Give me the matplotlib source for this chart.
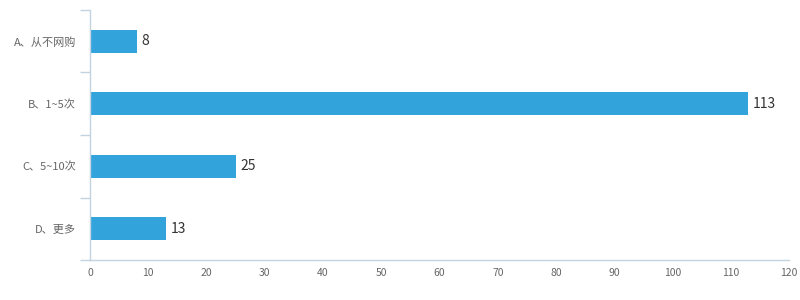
import matplotlib
matplotlib.use("Agg")
import matplotlib.pyplot as plt
import numpy as np

plt.rcParams["font.family"] = ["Noto Sans CJK SC", "DejaVu Sans"]

categories = ["A、从不网购", "B、1~5次", "C、5~10次", "D、更多"]
counts = [8, 113, 25, 13]
x_ticks = list(range(0, 121, 10))

BAR_COLOR = "#33a3dc"
AXIS_COLOR = "#c4d3e0"
LABEL_COLOR = "#666666"

fig = plt.figure(figsize=(8, 3), dpi=100)
ax = fig.add_axes([0.1125, 0.1333, 0.874, 0.8334])

ypos = np.arange(len(categories))[::-1]
ax.barh(ypos, counts, height=0.37, color=BAR_COLOR)
for y, v in zip(ypos, counts):
    ax.text(v + 0.8, y, str(v), va="center", ha="left", fontsize=10, color="#333333")

ax.set_ylim(-0.5, len(categories) - 0.5)
ax.set_xlim(0, 120)
ax.set_xticks(x_ticks)
ax.set_yticks(ypos)
ax.set_yticklabels(categories)
ax.set_yticks(np.arange(-0.5, len(categories), 1.0), minor=True)

for side in ("top", "right"):
    ax.spines[side].set_visible(False)
for side in ("left", "bottom"):
    ax.spines[side].set_color(AXIS_COLOR)
    ax.spines[side].set_linewidth(1)

ax.tick_params(axis="y", which="major", length=0, pad=10, labelsize=8, labelcolor=LABEL_COLOR)
ax.tick_params(axis="y", which="minor", length=7, color=AXIS_COLOR, width=1)
ax.tick_params(axis="x", which="major", length=0, pad=6, labelsize=7.5, labelcolor=LABEL_COLOR)

fig.savefig("out.png", dpi=100)
